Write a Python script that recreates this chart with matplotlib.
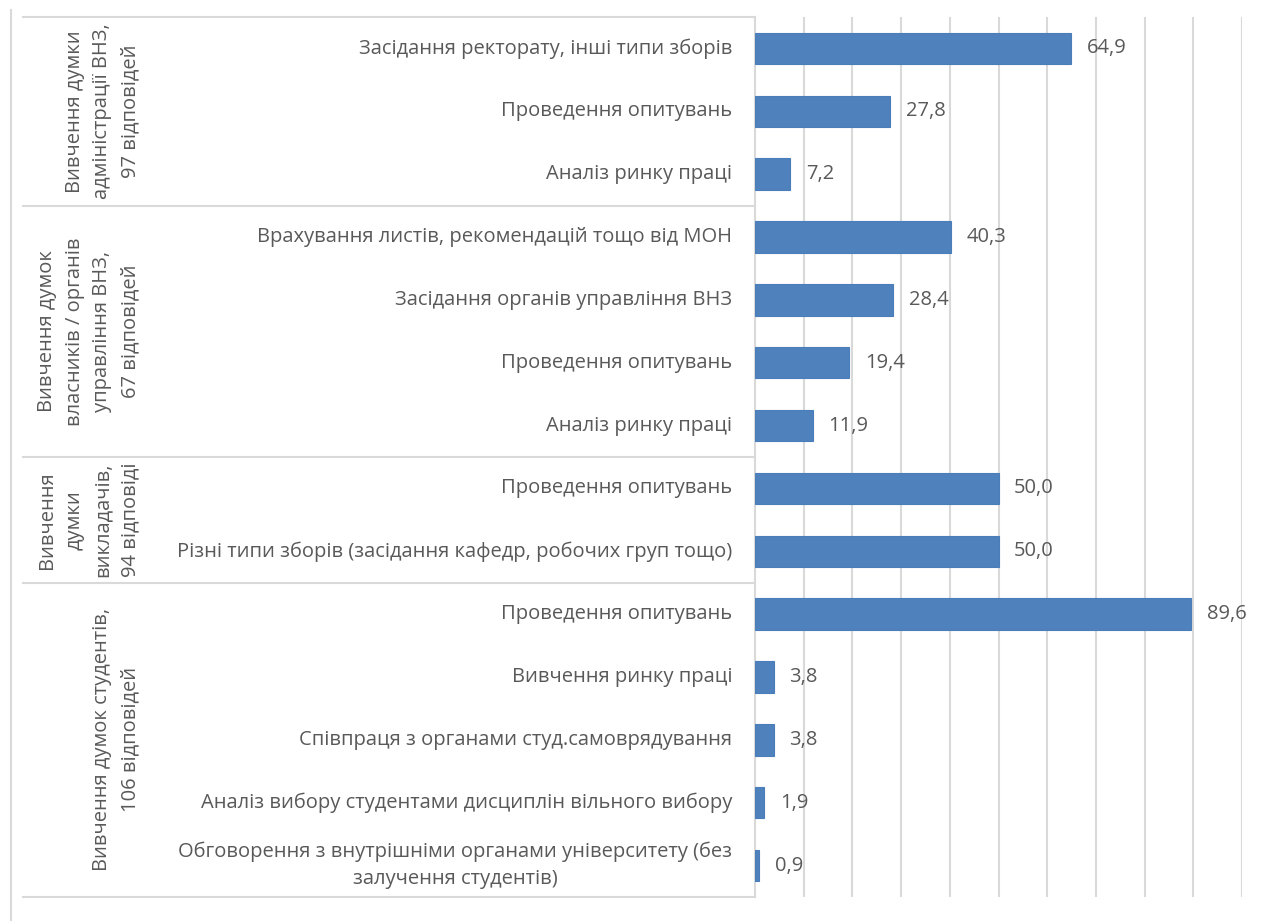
import matplotlib
matplotlib.use('Agg')
import matplotlib.pyplot as plt
from matplotlib.lines import Line2D

# data, top to bottom
GROUPS = ['Вивчення думки\nадміністрації ВНЗ,\n97 відповідей',
          'Вивчення думок\nвласників / органів\nуправління ВНЗ,\n67 відповідей',
          'Вивчення\nдумки\nвикладачів,\n94 відповіді',
          'Вивчення думок студентів,\n106 відповідей']
GROUP_SIZES = [3, 4, 2, 5]
CATEGORIES = ['Засідання ректорату, інші типи зборів',
              'Проведення опитувань',
              'Аналіз ринку праці',
              'Врахування листів, рекомендацій тощо від МОН',
              'Засідання органів управління ВНЗ',
              'Проведення опитувань',
              'Аналіз ринку праці',
              'Проведення опитувань',
              'Різні типи зборів (засідання кафедр, робочих груп тощо)',
              'Проведення опитувань',
              'Вивчення ринку праці',
              'Співпраця з органами студ.самоврядування',
              'Аналіз вибору студентами дисциплін вільного вибору',
              'Обговорення з внутрішніми органами університету (без\nзалучення студентів)']
VALUES = [64.9, 27.8, 7.2, 40.3, 28.4, 19.4, 11.9, 50.0, 50.0, 89.6, 3.8, 3.8, 1.9, 0.9]

FONT = ['Open Sans', 'DejaVu Sans']
TXT = '#595959'
GRID = '#D9D9D9'
BAR = '#4F81BD'
FS = 14.5

W, H = 1261, 921
fig = plt.figure(figsize=(W / 100, H / 100), dpi=100)
x0, x1, ytop, ybot = 755, 1242, 17, 897
ax = fig.add_axes([x0 / W, 1 - ybot / H, (x1 - x0) / W, (ybot - ytop) / H])

pos = list(range(len(VALUES)))
ax.barh(pos, VALUES, height=0.5, color=BAR, edgecolor='#4A7EBB', linewidth=0.8, zorder=3)
for p, v in zip(pos, VALUES):
    ax.text(v + 3.2, p, ('%.1f' % v).replace('.', ','), va='center', ha='left',
            fontsize=FS, color=TXT, family=FONT)

ax.set_xlim(0, 100)
ax.set_ylim(len(VALUES) - 0.5, -0.5)
ax.set_xticks(range(10, 101, 10))
ax.set_yticks([])
ax.tick_params(axis='x', length=0, labelbottom=False)
ax.grid(axis='x', color=GRID, linewidth=1.5, zorder=0)
for s in ['top', 'right', 'bottom']:
    ax.spines[s].set_visible(False)
ax.spines['left'].set_color(GRID)
ax.spines['left'].set_linewidth(1.5)

# category labels
lab_x = (732 - x0) / (x1 - x0)
ytr = ax.get_yaxis_transform()
for p, c in zip(pos, CATEGORIES):
    ax.text(lab_x, p, c, transform=ytr, ha='right', va='center', ma='center',
            fontsize=FS, color=TXT, family=FONT, linespacing=1.45)

# group boxes and labels
left_x = (23 - x0) / (x1 - x0)
grp_x = (140 - x0) / (x1 - x0)
start = 0
bounds = [-0.5]
for g, n in zip(GROUPS, GROUP_SIZES):
    mid = start + (n - 1) / 2
    ax.text(grp_x, mid, g, transform=ytr, rotation=90, ha='right', va='center',
            ma='center', fontsize=FS, color=TXT, family=FONT, linespacing=1.5)
    start += n
    bounds.append(start - 0.5)
for b in bounds:
    ax.add_line(Line2D([left_x, 0], [b, b], transform=ytr, color=GRID,
                       linewidth=1.5, clip_on=False))

fig.add_artist(Line2D([11 / W, 11 / W], [0, 1 - 10 / H], color=GRID, linewidth=1.5))

fig.savefig('out.png', dpi=100, facecolor='white')
